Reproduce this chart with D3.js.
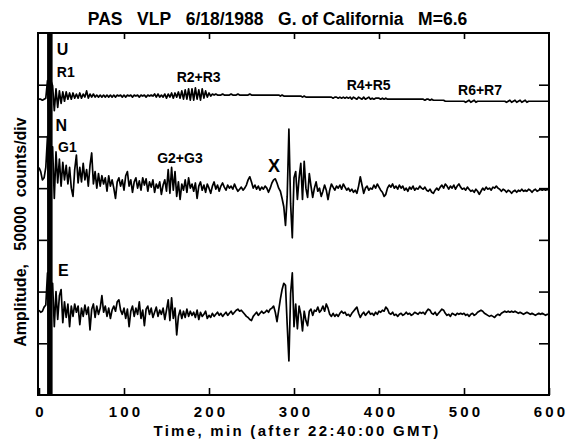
<!DOCTYPE html>
<html><head><meta charset="utf-8">
<script src="https://cdn.jsdelivr.net/npm/d3@7"></script>
<style>
html,body{margin:0;padding:0;background:#fff;}
svg{display:block;font-family:"Liberation Sans",Arial,Helvetica,sans-serif;}
</style></head><body>
<script>
// ---- data (amplitudes in thousands of counts, 50 = one division; sample every 2 min) ----
const timeStep = 2;
const uValues = [
 2,2,1,2,3,20,-20,20,15,-9,
 12,-6,10,-2,9,0,9,2,8,2,
 8,3,7,3,8,3,7,4,10,3,
 7,4,7,4,6,4,6,4,6,4,
 6,4,6,4,6,4,6,5,6,4,
 6,4,6,5,6,4,6,5,6,4,
 6,5,6,4,6,5,6,5,7,4,
 7,4,6,4,7,3,7,4,8,3,
 8,4,9,3,10,2,11,2,12,1,
 12,1,13,2,11,1,12,3,10,4,
 8,5,7,6,7,6,6,6,7,6,
 6,6,6,7,6,6,6,7,6,6,
 6,6,6,6,7,6,6,6,6,6,
 6,6,6,6,6,6,6,6,6,6,
 6,6,5,6,5,5,5,5,5,5,
 5,5,5,5,5,4,5,4,4,4,
 4,4,4,4,4,4,4,4,4,4,
 4,4,4,3,4,4,3,4,3,4,
 3,4,3,4,2,4,3,2,4,3,
 2,4,2,3,4,2,3,2,3,3,
 3,2,3,2,3,2,2,2,2,2,
 2,2,2,2,2,2,2,2,2,2,
 2,2,2,2,2,2,2,1,2,2,
 1,2,1,1,1,1,1,1,1,0,
 0,0,0,0,0,0,0,0,0,0,
 0,-1,0,1,-1,0,1,-1,0,0,
 0,0,0,0,0,0,0,0,0,0,
 0,0,0,0,0,-1,0,1,-1,0,
 1,-1,0,1,-1,0,1,-1,0,0,
 0,0,0,0,0,0,0,0,0,0,
 0];
const nValues = [
 20,16,8,10,20,50,-50,40,40,-10,
 35,5,28,2,25,8,22,4,20,0,
 -8,18,32,5,20,6,24,8,18,2,
 22,34,4,16,0,14,2,12,4,10,
 -3,12,2,8,0,-10,6,10,2,8,
 -2,12,16,2,8,-4,6,10,0,7,
 -2,10,3,9,-3,6,1,8,-4,4,
 0,6,-6,3,8,-3,18,-5,20,-2,
 16,-8,6,-11,4,-2,8,-4,10,0,
 4,-3,5,-10,2,6,-2,3,-4,4,
 0,-5,2,6,-1,3,-3,2,5,1,
 -2,3,0,2,-1,4,0,-3,-1,1,
 -2,0,3,8,11,6,0,3,-1,2,
 -2,1,-1,2,0,-4,0,5,8,9,
 5,0,-3,-10,-18,-36,-8,57,-15,-48,
 10,16,-11,10,24,-11,26,0,-9,14,
 2,-9,0,6,-3,0,-8,-3,3,-2,
 -11,-2,4,1,-2,2,0,3,-1,4,
 1,-2,0,-3,-1,-4,-2,-5,2,11,
 3,-5,0,2,-2,0,-1,3,0,4,
 1,-2,-4,-8,-6,0,3,1,4,0,
 2,-1,3,0,2,-2,0,-3,1,-1,
 2,-2,0,-1,2,0,-1,1,-2,-3,
 -1,-4,-5,-2,0,-2,1,3,0,4,
 2,-1,2,0,3,-1,2,4,1,-1,
 0,-2,1,-1,-3,-2,-4,-1,-3,-6,
 -3,0,-2,1,-1,0,-2,1,0,2,
 0,-1,-3,-1,-2,-4,-2,-3,-5,-3,
 -2,-4,-2,-3,-1,-3,-2,-3,-1,-2,
 -4,-2,-1,-3,-2,-1,-2,-1,-2,-1,
 -2];
const eValues = [
 4,2,3,7,9,40,-40,30,30,-12,
 22,-5,18,24,-8,12,-3,10,-12,8,
 -2,10,2,8,-10,6,-2,9,0,7,
 -15,5,10,-3,8,0,6,18,2,8,
 -2,6,-4,4,8,3,12,14,4,0,
 6,-4,5,-12,3,8,-2,6,0,12,
 -4,4,-11,5,8,0,6,-3,2,7,
 -2,4,0,6,-5,4,14,-6,16,-4,
 6,-20,-2,4,-4,3,-3,5,-2,3,
 -1,2,-3,4,-5,2,-2,0,3,-4,
 -1,-3,1,-2,0,2,-1,1,-2,0,
 2,-1,1,3,0,2,4,5,3,4,
 2,0,-2,-3,-5,-6,-2,0,2,-1,
 1,3,1,2,4,2,5,6,8,2,
 -7,4,15,24,30,28,-10,-45,20,40,
 -12,10,-14,8,0,-16,3,-6,-11,3,
 5,-1,4,3,7,2,4,8,3,10,
 6,0,-2,1,-2,0,-2,1,3,1,
 2,-1,0,-2,1,3,5,7,1,-3,
 0,2,-1,1,3,0,1,-1,2,0,
 3,2,4,3,7,5,1,0,2,-1,
 0,-2,0,1,-1,0,2,0,1,-1,
 0,2,1,0,2,1,2,0,3,5,
 4,1,0,2,-1,1,3,5,4,1,
 -1,0,-2,1,0,-1,1,0,1,0,
 1,-1,0,-2,0,1,-1,0,2,3,
 4,3,1,0,-1,-2,-1,-2,-3,-1,
 0,-1,1,2,3,2,3,2,3,2,
 3,2,1,2,1,0,1,2,1,0,
 1,0,-1,0,1,0,1,0,-1,0,
 0];
const traceNames = ["U", "N", "E"];
const traceOffsets = [284, 200, 78];          // trace baselines, thousands of counts
const saturatedWindow = [9.5, 16];            // minutes where all traces are clipped
const xTickValues = [0, 100, 200, 300, 400, 500, 600];
const yDivisionTicks = [50, 100, 150, 200, 250, 300];
const phaseLabels = ["R1", "R2+R3", "R4+R5", "R6+R7", "G1", "G2+G3", "X"];
const phaseTimes  = [21, 162, 362, 493, 22.4, 139, 269.4];
const phaseLevels = [307, 303, 295, 290, 235, 224.5, 215.8];
const traceLabelTimes  = [21, 19.5, 22.4];
const traceLabelLevels = [329, 255, 115];
const titleText = "PAS\u00a0\u00a0\u00a0VLP\u00a0\u00a0\u00a06/18/1988\u00a0\u00a0\u00a0G. of California\u00a0\u00a0\u00a0M=6.6";
const xTitle = "Time, min (after 22:40:00 GMT)";
const yTitle = "Amplitude,\u00a0\u00a0\u00a050000\u00a0\u00a0counts/div";

// ---- drawing ----
const W = 570, H = 441;
const L = 38, R = 549, T = 33, B = 395;
const svg = d3.select("body").append("svg").attr("width", W).attr("height", H);
const x = d3.scaleLinear().domain([0, 600]).range([39, 549]);
const y = d3.scaleLinear().domain([0, 350]).range([B, T]);

svg.append("clipPath").attr("id", "plotclip").append("rect")
  .attr("x", L).attr("y", T).attr("width", R - L).attr("height", B - T);
const plot = svg.append("g").attr("clip-path", "url(#plotclip)");

const line = d3.line().x(d => x(d.t)).y(d => y(d.v)).curve(d3.curveLinear);
[uValues, nValues, eValues].forEach((vals, k) => {
  const pts = vals.map((v, i) => ({t: i * timeStep, v: traceOffsets[k] + v}));
  plot.append("path").datum(pts).attr("d", line)
    .attr("fill", "none").attr("stroke", "#000").attr("stroke-width", 1.7)
    .attr("stroke-linejoin", "round");
});
plot.append("rect")
  .attr("x", x(saturatedWindow[0])).attr("width", x(saturatedWindow[1]) - x(saturatedWindow[0]))
  .attr("y", T).attr("height", B - T).attr("fill", "#000");

// axes (ticks point inward)
const inner = xTickValues.slice(1, -1);
const gB = svg.append("g").attr("transform", `translate(0,${B})`)
  .call(d3.axisBottom(x).tickValues(xTickValues).tickSizeInner(-7).tickSizeOuter(0).tickPadding(11));
gB.select(".domain").remove();
gB.selectAll(".tick line").attr("stroke-width", 1.6);
gB.selectAll(".tick text").attr("font-size", 15).attr("font-weight", "bold")
  .attr("font-family", "Liberation Sans, Arial, sans-serif")
  .style("letter-spacing", "3.2px").attr("dx", "1.6px");
const gT = svg.append("g").attr("transform", `translate(0,${T})`)
  .call(d3.axisTop(x).tickValues(inner).tickSizeInner(-6).tickSizeOuter(0).tickFormat(""));
gT.select(".domain").remove();
gT.selectAll(".tick line").attr("stroke-width", 1.6);
const gL = svg.append("g").attr("transform", `translate(${L},0)`)
  .call(d3.axisLeft(y).tickValues(yDivisionTicks).tickSizeInner(-9).tickSizeOuter(0).tickFormat(""));
gL.select(".domain").remove();
gL.selectAll(".tick line").attr("stroke-width", 1.6);
const gR = svg.append("g").attr("transform", `translate(${R},0)`)
  .call(d3.axisRight(y).tickValues(yDivisionTicks).tickSizeInner(-10).tickSizeOuter(0).tickFormat(""));
gR.select(".domain").remove();
gR.selectAll(".tick line").attr("stroke-width", 1.6);

svg.append("rect").attr("x", L).attr("y", T).attr("width", R - L).attr("height", B - T)
  .attr("fill", "none").attr("stroke", "#000").attr("stroke-width", 2);

// labels
svg.append("text").attr("x", 277.5).attr("y", 25).attr("text-anchor", "middle")
  .attr("font-size", 17.5).attr("font-weight", "bold").text(titleText);
svg.append("text").attr("x", 297).attr("y", 436).attr("text-anchor", "middle")
  .attr("font-size", 15).attr("font-weight", "bold").style("letter-spacing", "2.3px")
  .text(xTitle);
svg.append("text").attr("transform", "translate(25.5,232) rotate(-90)").attr("text-anchor", "middle")
  .attr("font-size", 16).attr("font-weight", "bold").text(yTitle);

traceNames.forEach((nm, i) => {
  svg.append("text").attr("x", x(traceLabelTimes[i])).attr("y", y(traceLabelLevels[i]))
    .attr("font-size", 16).attr("font-weight", "bold").text(nm);
});
phaseLabels.forEach((nm, i) => {
  svg.append("text").attr("x", x(phaseTimes[i])).attr("y", y(phaseLevels[i]))
    .attr("font-size", nm === "X" ? 18 : 14).attr("font-weight", "bold").text(nm);
});
</script>
</body></html>
